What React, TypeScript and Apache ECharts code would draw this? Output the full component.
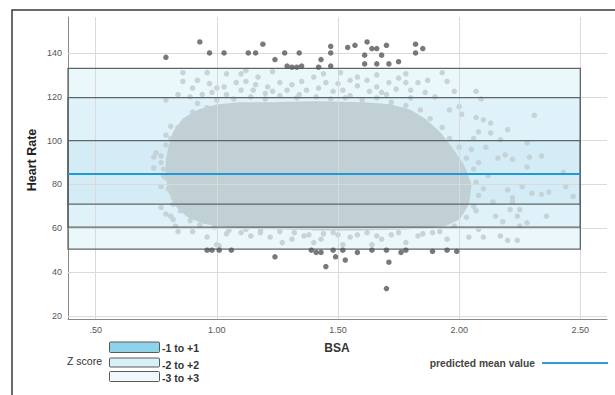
import React, { useEffect, useRef } from "react";
import * as echarts from "echarts";

// ---- data ----
const xTickValues = [0.5, 1.0, 1.5, 2.0, 2.5];
const yTickValues = [20, 40, 60, 80, 100, 120, 140];
const xRange = [0.386, 2.61];
const yRange = [18.6, 156.4];
const bandXEnd = 2.5;
const meanValue = 84.8;
// z-score bands [low, high]
const band3 = [50.5, 133];
const band2 = [60.5, 119.6];
const band1 = [71, 100];
const bandLabels = ["-1 to +1", "-2 to +2", "-3 to +3"];

// outline of the dense body of the scatter cloud
const coreOutline = [
  [0.80, 97], [0.82, 104], [0.86, 110], [0.92, 114], [1.00, 116.5], [1.10, 117.5], [1.20, 117.5],
  [1.40, 118], [1.60, 117.5], [1.72, 116.5], [1.80, 114], [1.86, 110], [1.92, 104], [1.97, 97],
  [2.02, 89], [2.05, 80], [2.04, 71], [2.00, 64], [1.94, 61], [1.80, 59.5], [1.60, 59],
  [1.40, 59], [1.20, 59.5], [1.05, 60.5], [0.95, 62], [0.88, 65], [0.83, 70], [0.80, 77],
  [0.79, 84], [0.79, 91],
];

// individual light points at the fringe of the cloud
const fringePoints = [
  // top
  [0.86, 131], [0.96, 131], [1.04, 130.5], [1.10, 130.5], [1.12, 132], [1.17, 129], [1.23, 131.5],
  [0.86, 127], [0.92, 127.5], [0.97, 126], [1.03, 124.5], [1.08, 126.5], [1.12, 127], [1.16, 125.5],
  [1.21, 124.5], [1.26, 126.5], [1.31, 125.5], [0.84, 121], [0.89, 120], [0.94, 121], [0.98, 122],
  [1.04, 121], [1.10, 123], [1.15, 123], [1.23, 122.5], [1.29, 123], [0.79, 118.5], [1.40, 129],
  [1.45, 126.5], [1.51, 131], [1.55, 127.5], [1.58, 129], [1.63, 122.5], [1.71, 126.5], [1.75, 128.5],
  [1.78, 126.5], [1.83, 126.5], [1.87, 127.5], [1.93, 131], [1.95, 127], [1.98, 122.5], [2.07, 122.5],
  [2.09, 119], [1.37, 123], [1.48, 122.5], [1.68, 122], [1.90, 120], [1.80, 119.5], [1.55, 120.5],
  [1.35, 127], [1.42, 124], [1.50, 126], [1.52, 123], [1.58, 125], [1.62, 127.5], [1.66, 124.5],
  [1.70, 121], [1.74, 123.5], [1.80, 123], [1.86, 122], [1.34, 121], [1.20, 121.5], [1.00, 124],
  [0.90, 124], [1.44, 130.5], [1.66, 130], [1.78, 130.5],
  // top edge of the body
  [0.92, 117], [1.00, 118.5], [1.07, 119], [1.14, 120], [1.20, 119], [1.26, 120.5], [1.33, 119.5],
  [1.41, 120], [1.47, 119], [1.53, 119.5], [1.60, 118.5], [1.66, 119.5], [1.72, 117.5], [1.78, 116],
  [1.84, 114], [1.88, 110], [1.93, 106], [1.96, 101],
  // right edge of the body
  [2.00, 97], [2.03, 92], [2.06, 87], [2.07, 81], [2.08, 75], [2.06, 70], [2.03, 65], [1.98, 61],
  // bottom edge of the body
  [1.92, 58.5], [1.85, 57.5], [1.72, 57], [1.66, 56.5], [1.58, 57], [1.50, 57], [1.44, 57.5],
  [1.38, 57], [1.32, 58], [1.26, 58.5], [1.18, 59], [1.12, 59.5], [1.05, 59], [0.99, 60.5],
  [0.93, 61.5], [0.89, 63.5],
  // left edge of the body
  [0.85, 68], [0.82, 71], [0.80, 78], [0.78, 84], [0.77, 93], [0.79, 98], [0.81, 101], [0.84, 106],
  [0.87, 109], [0.90, 113], [0.96, 115],
  // right
  [2.31, 111.5], [2.20, 105], [2.28, 99], [2.29, 92.5], [2.34, 93], [2.19, 93.5], [2.22, 91.5],
  [2.28, 88], [2.43, 85.5], [2.44, 79], [2.47, 74.5], [2.26, 79], [2.30, 76], [2.34, 75.5],
  [2.37, 76.5], [2.22, 74], [2.36, 65.5], [2.25, 68.5], [2.24, 65.5], [2.21, 68.5], [2.28, 62.5],
  [2.25, 61], [2.20, 54.5], [2.24, 54.5], [2.10, 56], [2.17, 56.5], [2.10, 109.5], [2.13, 108],
  [2.08, 104], [2.13, 103.5], [2.17, 100.5], [2.11, 97], [2.07, 110.5], [2.00, 115.5], [1.96, 114],
  [2.01, 112], [2.16, 92], [2.20, 77.5], [2.22, 72], [2.15, 65.5], [2.18, 63], [2.08, 59.5],
  [2.04, 56], [2.08, 90], [2.12, 84], [2.10, 78], [2.14, 72], [2.07, 68], [2.05, 96], [2.06, 101],
  // left
  [0.81, 106.5], [0.79, 102.5], [0.75, 94.5], [0.74, 92.5], [0.77, 90], [0.74, 87.5], [0.78, 87],
  [0.79, 83], [0.77, 79], [0.81, 77], [0.77, 69.5], [0.79, 66.5], [0.82, 64], [0.83, 61],
  [0.82, 74], [0.81, 65.5], [0.84, 58.5],
  // bottom
  [0.90, 58.5], [0.96, 56], [1.00, 52.5], [1.01, 52], [1.04, 57.5], [1.10, 58], [1.14, 56.5],
  [1.18, 58], [1.22, 56], [1.27, 53.5], [1.31, 55], [1.36, 56.5], [1.40, 53.5], [1.43, 55],
  [1.48, 58], [1.52, 52.5], [1.55, 56], [1.62, 58], [1.64, 52.5], [1.68, 55], [1.75, 58],
  [1.78, 53.5], [1.83, 56.5], [1.89, 58], [1.95, 55],
];

// dark points outside the +-3 band
const outlierPoints = [
  [0.79, 138], [0.93, 145], [0.97, 140], [1.03, 140], [1.13, 140], [1.16, 140], [1.19, 144],
  [1.24, 137], [1.28, 140], [1.34, 140], [1.29, 134], [1.31, 133.5], [1.35, 134], [1.33, 133.5],
  [1.42, 133.5], [1.43, 137], [1.47, 143], [1.47, 140], [1.47, 134], [1.54, 142.5], [1.57, 143.5],
  [1.62, 145], [1.64, 142], [1.66, 142], [1.70, 143.5], [1.61, 139], [1.68, 139], [1.61, 135],
  [1.66, 135], [1.71, 135], [1.75, 136], [1.82, 144], [1.85, 142], [1.82, 140],
  [0.96, 50], [0.98, 50], [1.01, 50], [1.06, 50], [1.24, 47], [1.39, 50], [1.41, 49], [1.43, 49],
  [1.45, 42.5], [1.48, 50], [1.49, 47], [1.53, 45.5], [1.52, 50], [1.58, 49], [1.64, 50],
  [1.70, 50], [1.71, 44.5], [1.70, 32.5], [1.76, 49], [1.78, 50], [1.89, 49.5], [1.95, 50],
  [1.99, 49.5],
];

const FONT = "Liberation Sans, Arial, sans-serif";

export default function App() {
  const ref = useRef<HTMLDivElement>(null);
  useEffect(() => {
    if (!ref.current) return;
    const chart = echarts.init(ref.current, null, { renderer: "svg" });

    const bands = [
      { r: band3, fill: "rgba(140,208,235,0.18)" },
      { r: band2, fill: "rgba(140,208,235,0.10)" },
      { r: band1, fill: "rgba(140,208,235,0.14)" },
    ];

    const option: any = {
      animation: false,
      grid: { left: 68, top: 17, right: 8, bottom: 76, containLabel: false },
      xAxis: {
        type: "value",
        min: xRange[0],
        max: xRange[1],
        axisLine: { show: true, lineStyle: { color: "#8a8a8a", width: 1 } },
        axisTick: { show: false },
        splitLine: { show: false },
        axisLabel: {
          customValues: xTickValues,
          formatter: (v: number) => v.toFixed(2).replace(/^0/, ""),
          color: "#555",
          fontSize: 9,
          fontFamily: FONT,
          margin: 6,
        },
      },
      yAxis: {
        type: "value",
        min: yRange[0],
        max: yRange[1],
        axisLine: { show: true, lineStyle: { color: "#8a8a8a", width: 1 } },
        axisTick: { show: false },
        splitLine: { show: false },
        axisLabel: {
          customValues: yTickValues,
          formatter: (v: number) => String(v),
          color: "#555",
          fontSize: 9,
          fontFamily: FONT,
          margin: 6,
        },
      },
      series: [
        {
          type: "line",
          data: [],
          z: 1,
          silent: true,
          markLine: {
            silent: true,
            symbol: "none",
            label: { show: false },
            lineStyle: { color: "#dadada", width: 1, type: "solid" },
            data: [
              ...yTickValues.map((v) => ({ yAxis: v })),
              ...xTickValues.map((v) => ({ xAxis: v })),
            ],
          },
        },
        {
          type: "custom",
          z: 2,
          silent: true,
          data: bands.map((b, i) => [i]),
          renderItem: (params: any, api: any) => {
            const b = bands[params.dataIndex];
            const p0 = api.coord([xRange[0], b.r[1]]);
            const p1 = api.coord([bandXEnd, b.r[0]]);
            return {
              type: "rect",
              shape: { x: p0[0], y: p0[1], width: p1[0] - p0[0], height: p1[1] - p0[1] },
              style: { fill: b.fill, stroke: null },
            };
          },
        },
        {
          type: "custom",
          z: 3,
          silent: true,
          data: [[1.4, 85]],
          renderItem: (params: any, api: any) => {
            const pts = coreOutline.map((p) => api.coord(p));
            return {
              type: "polygon",
              shape: { points: pts, smooth: 0.12 },
              style: { fill: "#c0d0d5" },
            };
          },
        },
        {
          type: "scatter",
          z: 4,
          silent: true,
          symbolSize: 5.5,
          itemStyle: { color: "#c4d1d5", opacity: 0.95 },
          data: fringePoints,
        },
        {
          type: "custom",
          z: 5,
          silent: true,
          data: bands.map((b, i) => [i]),
          renderItem: (params: any, api: any) => {
            const b = bands[params.dataIndex];
            const p0 = api.coord([xRange[0], b.r[1]]);
            const p1 = api.coord([bandXEnd, b.r[0]]);
            return {
              type: "rect",
              shape: { x: p0[0], y: p0[1], width: p1[0] - p0[0], height: p1[1] - p0[1] },
              style: { fill: "none", stroke: "#5d6669", lineWidth: 1.3 },
            };
          },
        },
        {
          type: "line",
          z: 6,
          silent: true,
          symbol: "none",
          lineStyle: { color: "#1f9ad6", width: 2 },
          data: [
            [xRange[0], meanValue],
            [bandXEnd, meanValue],
          ],
        },
        {
          type: "scatter",
          z: 7,
          silent: true,
          symbolSize: 5.5,
          itemStyle: { color: "#575757" },
          data: outlierPoints,
        },
      ],
      graphic: [
        {
          type: "rect",
          silent: true,
          shape: { x: 12, y: 10, width: 640, height: 420 },
          style: { fill: "none", stroke: "#3a3a3a", lineWidth: 1.5 },
        },
        {
          type: "text",
          x: 32,
          y: 160,
          rotation: Math.PI / 2,
          style: {
            text: "Heart Rate",
            font: `bold 12.5px ${FONT}`,
            fill: "#222",
            align: "center",
            verticalAlign: "middle",
          },
        },
        {
          type: "text",
          x: 337,
          y: 348,
          style: {
            text: "BSA",
            font: `bold 12px ${FONT}`,
            fill: "#333",
            align: "center",
            verticalAlign: "middle",
          },
        },
        {
          type: "text",
          x: 67,
          y: 361,
          style: {
            text: "Z score",
            font: `10.5px ${FONT}`,
            fill: "#333",
            align: "left",
            verticalAlign: "middle",
          },
        },
        {
          type: "rect",
          shape: { x: 109.5, y: 342, width: 50, height: 10.5, r: 1 },
          style: { fill: "#8ed3ea", stroke: "#5a5a5a", lineWidth: 1 },
        },
        {
          type: "rect",
          shape: { x: 109.5, y: 358, width: 50, height: 9, r: 1 },
          style: { fill: "#d8f0f8", stroke: "#5a5a5a", lineWidth: 1 },
        },
        {
          type: "rect",
          shape: { x: 109.5, y: 371.5, width: 50, height: 10, r: 1 },
          style: { fill: "#eff9fc", stroke: "#5a5a5a", lineWidth: 1 },
        },
        ...bandLabels.map((t, i) => ({
          type: "text",
          x: 162,
          y: [348, 365, 378][i],
          style: {
            text: t,
            font: `bold 10.5px ${FONT}`,
            fill: "#333",
            align: "left",
            verticalAlign: "middle",
          },
        })),
        {
          type: "text",
          x: 535,
          y: 363,
          style: {
            text: "predicted mean value",
            font: `bold 10.3px ${FONT}`,
            fill: "#444",
            align: "right",
            verticalAlign: "middle",
          },
        },
        {
          type: "line",
          shape: { x1: 542, y1: 363, x2: 608, y2: 363 },
          style: { stroke: "#2aa0d8", lineWidth: 2 },
        },
      ],
    };
    chart.setOption(option);
    return () => chart.dispose();
  }, []);
  return (
    <div
      ref={ref}
      style={{ position: "fixed", left: 0, top: 0, width: 615, height: 395, background: "#fff" }}
    />
  );
}
